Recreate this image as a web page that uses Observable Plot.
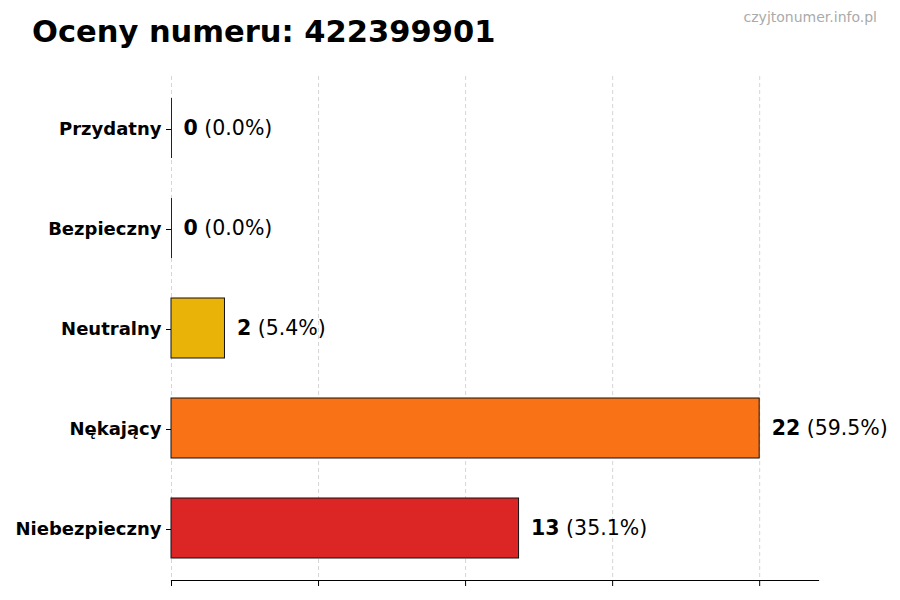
<!DOCTYPE html>
<html><head><meta charset="utf-8">
<script src="https://cdn.jsdelivr.net/npm/d3@7"></script>
<script src="https://cdn.jsdelivr.net/npm/@observablehq/plot@0.6"></script>
<style>
body{margin:0;background:#fff;font-family:"DejaVu Sans",sans-serif;}
#wrap{position:relative;width:900px;height:600px;}
#title{position:absolute;left:32px;top:14px;font-size:30.5px;font-weight:bold;color:#000;white-space:nowrap;}
#wm{position:absolute;right:23px;top:9px;font-size:14px;color:#aaaaaa;}
#chart{position:absolute;left:0;top:0;}
</style></head>
<body>
<div id="wrap"><div id="chart"></div><div id="title">Oceny numeru: 422399901</div><div id="wm">czyjtonumer.info.pl</div></div>
<script>
const categories = ["Przydatny","Bezpieczny","Neutralny","Nękający","Niebezpieczny"];
const counts = [0,0,2,22,13];
const colors = ["#22c55e","#3b82f6","#eab308","#f97316","#dc2626"];
const xTicks = [0,5.5,11,16.5,22];
const xMax = 24.2;

const total = d3.sum(counts);
const data = categories.map((c,i)=>({cat:c, value:counts[i], color:colors[i], pct:(counts[i]/total*100).toFixed(1)}));

const svg = Plot.plot({
  width:900, height:600,
  marginTop:76, marginBottom:20, marginLeft:171, marginRight:82,
  style:{fontFamily:"DejaVu Sans", background:"white", overflow:"visible"},
  x:{domain:[0,xMax], axis:null},
  y:{domain:categories, paddingInner:0.4, paddingOuter:0.22, axis:null},
  marks:[
    Plot.gridX(xTicks,{stroke:"#cccccc", strokeOpacity:1, strokeDasharray:"4,3", strokeWidth:0.8}),
    Plot.barX(data,{x:"value", y:"cat", fill:"color", stroke:"#111", strokeWidth:1}),
    Plot.tickX(data.filter(d=>d.value===0),{x:"value", y:"cat", stroke:"#222", strokeWidth:1}),
    Plot.axisX({ticks:xTicks, tickFormat:()=>"", tickSize:6, stroke:"#000", label:null}),
    Plot.frame({anchor:"bottom", stroke:"#000", strokeWidth:1.2}),
    Plot.axisY({tickSize:5, tickPadding:5, fontSize:18, fontWeight:"bold", fill:"#000", stroke:"#000", label:null, dy:1}),
    Plot.text(data,{x:"value", y:"cat", text:d=>`${d.value}|(${d.pct}%)`, dx:12, textAnchor:"start", fontSize:20.5, fill:"#000"})
  ]
});
d3.select(svg).selectAll("text").each(function(){
  const t = this.textContent;
  if (t.includes("|")) {
    const [a,b] = t.split("|");
    const s = d3.select(this);
    s.text(null);
    s.append("tspan").attr("font-weight","bold").text(a);
    s.append("tspan").text(" " + b);
  }
});
d3.select(svg).selectAll("text").style("font-family","DejaVu Sans");
document.getElementById("chart").append(svg);
</script>
</body></html>
